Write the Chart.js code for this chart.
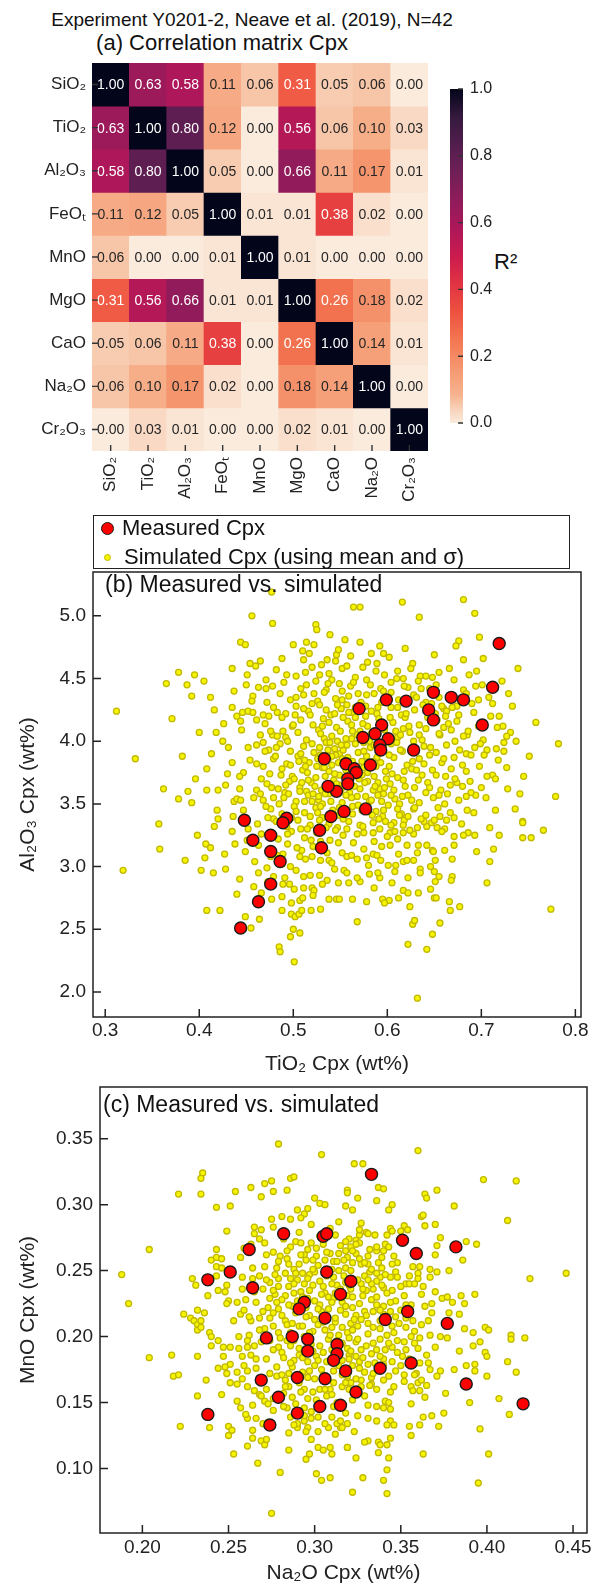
<!DOCTYPE html>
<html>
<head>
<meta charset="utf-8">
<script src="https://cdn.jsdelivr.net/npm/chart.js@4.4.1/dist/chart.umd.min.js"></script>
<style>
  body { margin: 0; background: #fff; }
  #page { position: relative; width: 604px; height: 1589px; font-family: 'Liberation Sans', Arial, sans-serif; color: #111; }
  #page canvas, .txt, .box, .dot { position: absolute; }
  .txt { white-space: nowrap; line-height: 1; }
  .box { box-sizing: border-box; border: 1.5px solid #222; }
  .dot { border-radius: 50%; box-sizing: border-box; }
</style>
</head>
<body>
<div id="page">
  <div class="txt" style="left:0;width:504px;text-align:center;top:10px;font-size:19px">Experiment Y0201-2, Neave et al. (2019), N=42</div>
  <div class="txt" style="left:0;width:444px;text-align:center;top:32px;font-size:22px">(a) Correlation matrix Cpx</div>
  <div class="txt" style="left:494px;top:251px;font-size:22px">R²</div>
  <canvas id="heat" width="440" height="520" style="left:0;top:0"></canvas>
  <canvas id="cbar" width="164" height="400" style="left:440px;top:60px"></canvas>

  <div class="box" style="left:93px;top:515px;width:477px;height:54px"></div>
  <div class="dot" style="left:101px;top:522px;width:13px;height:13px;background:#fe0000;border:1.4px solid #1a1a1a"></div>
  <div class="txt" style="left:122px;top:517px;font-size:22px">Measured Cpx</div>
  <div class="dot" style="left:103.5px;top:553.5px;width:7px;height:7px;background:#f5f500;border:1.2px solid #c2b800"></div>
  <div class="txt" style="left:124px;top:546px;font-size:22px">Simulated Cpx (using mean and σ)</div>

  <canvas id="scatB" width="604" height="520" style="left:0;top:560px"></canvas>
  <div class="txt" style="left:105px;top:573px;font-size:23px">(b) Measured vs. simulated</div>
  <canvas id="scatC" width="604" height="514" style="left:0;top:1075px"></canvas>
  <div class="txt" style="left:103px;top:1093px;font-size:23px">(c) Measured vs. simulated</div>
</div>
<script>
Chart.defaults.font.family = "'Liberation Sans', Arial, sans-serif";
Chart.defaults.color = '#222';

// (a) R² matrix, rows and columns in the same order
const oxides = ['SiO₂', 'TiO₂', 'Al₂O₃', 'FeOₜ', 'MnO', 'MgO', 'CaO', 'Na₂O', 'Cr₂O₃'];
const r2 = [
  [1.00, 0.63, 0.58, 0.11, 0.06, 0.31, 0.05, 0.06, 0.00],
  [0.63, 1.00, 0.80, 0.12, 0.00, 0.56, 0.06, 0.10, 0.03],
  [0.58, 0.80, 1.00, 0.05, 0.00, 0.66, 0.11, 0.17, 0.01],
  [0.11, 0.12, 0.05, 1.00, 0.01, 0.01, 0.38, 0.02, 0.00],
  [0.06, 0.00, 0.00, 0.01, 1.00, 0.01, 0.00, 0.00, 0.00],
  [0.31, 0.56, 0.66, 0.01, 0.01, 1.00, 0.26, 0.18, 0.02],
  [0.05, 0.06, 0.11, 0.38, 0.00, 0.26, 1.00, 0.14, 0.01],
  [0.06, 0.10, 0.17, 0.02, 0.00, 0.18, 0.14, 1.00, 0.00],
  [0.00, 0.03, 0.01, 0.00, 0.00, 0.02, 0.01, 0.00, 1.00]
];
const cbarTicks = [0, 0.2, 0.4, 0.6, 0.8, 1.0];

// (b) TiO2 vs Al2O3, [x, y]
const measB = [
  [0.719,4.78],[0.712,4.43],[0.649,4.39],[0.668,4.35],[0.681,4.33],[0.620,4.32],[0.599,4.33],[0.570,4.26],
  [0.644,4.25],[0.649,4.17],[0.701,4.13],[0.594,4.13],[0.587,4.06],[0.574,4.03],[0.601,4.02],[0.592,3.97],
  [0.593,3.93],[0.628,3.93],[0.556,3.82],[0.565,3.78],[0.567,3.75],[0.582,3.81],[0.558,3.70],[0.558,3.66],
  [0.546,3.60],[0.554,3.44],[0.577,3.46],[0.533,3.86],[0.537,3.64],[0.540,3.40],[0.448,3.37],[0.493,3.385],
  [0.489,3.35],[0.528,3.29],[0.457,3.21],[0.476,3.25],[0.476,3.12],[0.530,3.15],[0.486,3.04],[0.476,2.86],
  [0.463,2.72],[0.444,2.51]
];
const simB = [
  [0.477,5.19],[0.456,5.00],[0.478,4.94],[0.524,4.93],[0.525,4.89],[0.539,4.85],[0.555,4.81],[0.444,4.79],
  [0.449,4.77],[0.500,4.77],[0.514,4.79],[0.522,4.77],[0.510,4.72],[0.517,4.70],[0.546,4.69],[0.548,4.73],
  [0.511,4.65],[0.536,4.65],[0.454,4.62],[0.460,4.60],[0.465,4.64],[0.378,4.55],[0.395,4.53],[0.365,4.46],
  [0.387,4.45],[0.392,4.36],[0.312,4.24],[0.400,4.07],[0.418,4.07],[0.435,4.58],[0.451,4.53],[0.493,4.53],
  [0.471,4.49],[0.471,4.42],[0.478,4.44],[0.450,4.45],[0.435,4.27],[0.416,4.25],[0.332,3.86],[0.435,3.83],
  [0.430,3.74],[0.447,3.75],[0.443,3.72],[0.428,3.65],[0.420,3.61],[0.408,3.61],[0.388,3.60],[0.378,3.54],
  [0.392,3.51],[0.357,3.34],[0.420,3.38],[0.437,3.52],[0.440,3.54],[0.444,3.53],[0.461,3.61],[0.465,3.58],
  [0.468,3.53],[0.454,3.85],[0.461,3.82],[0.468,3.80],[0.461,3.97],[0.468,3.99],[0.478,4.05],[0.483,4.04],
  [0.461,4.17],[0.468,4.21],[0.474,4.20],[0.483,4.23],[0.444,4.16],[0.440,4.20],[0.445,4.09],[0.446,4.23],
  [0.452,4.24],[0.457,4.23],
  [0.681,5.13],[0.693,5.02],[0.634,4.99],[0.564,5.07],[0.571,5.07],[0.616,5.11],[0.698,4.83],[0.676,4.80],
  [0.673,4.76],[0.619,4.74],[0.592,4.76],[0.596,4.70],[0.571,4.79],[0.681,4.65],[0.666,4.58],[0.695,4.56],
  [0.655,4.55],[0.739,4.58],[0.635,4.52],[0.641,4.52],[0.617,4.50],[0.610,4.50],[0.671,4.49],[0.687,4.53],
  [0.694,4.44],[0.701,4.45],[0.729,4.38],[0.708,4.35],[0.697,4.33],[0.674,4.28],[0.660,4.26],[0.663,4.24],
  [0.710,4.20],[0.719,4.20],[0.723,4.12],[0.717,4.11],[0.685,4.05],[0.681,4.04],[0.731,4.07],[0.727,4.04],
  [0.737,4.00],[0.724,3.99],[0.782,3.98],[0.702,4.01],[0.699,3.98],[0.716,3.94],[0.724,3.92],[0.706,3.93],
  [0.703,3.89],[0.684,3.90],[0.689,3.89],[0.727,3.79],[0.741,3.58],[0.779,3.56],[0.736,3.46],[0.744,3.36],
  [0.712,3.73],[0.706,3.72],[0.715,3.70],[0.694,3.57],[0.689,3.59],[0.674,3.67],[0.680,3.64],[0.692,3.43],
  [0.685,3.45],[0.656,3.40],[0.663,3.37],[0.671,3.39],
  [0.358,3.14],[0.319,2.97],[0.402,2.97],[0.415,2.95],[0.406,3.07],[0.407,3.18],[0.412,3.15],[0.416,3.32],
  [0.408,2.65],[0.422,2.65],[0.443,2.90],[0.449,2.60],[0.455,2.51],[0.464,2.58],[0.435,3.28],[0.451,3.21],
  [0.449,3.12],[0.472,2.99],[0.466,2.79],[0.488,2.76],[0.488,2.65],[0.485,2.36],[0.486,2.32],[0.501,2.24],
  [0.497,2.44],[0.500,2.50],[0.507,2.47],[0.498,2.71],[0.507,2.73],[0.510,2.75],[0.498,2.62],[0.502,2.60],
  [0.506,2.62],[0.509,2.65],[0.519,2.65],[0.529,2.66],[0.489,2.86],[0.496,2.86],[0.511,2.83],[0.520,2.83],
  [0.522,2.81],[0.538,2.74],[0.546,2.74],[0.549,2.74],[0.511,2.92],[0.518,2.93],[0.536,2.89],[0.548,2.87],
  [0.497,3.00],[0.507,3.08],[0.520,3.08],[0.529,3.05],[0.538,3.05],[0.554,2.97],[0.557,2.95],[0.552,3.11],
  [0.557,3.08],
  [0.632,1.95],[0.642,2.34],[0.622,2.38],[0.648,2.46],[0.656,2.55],[0.627,2.54],[0.629,2.57],[0.774,2.66],
  [0.568,2.56],[0.624,2.68],[0.666,2.72],[0.667,2.65],[0.677,2.68],[0.650,2.75],[0.652,2.75],[0.646,2.82],
  [0.706,2.87],[0.709,3.04],[0.713,3.14],[0.719,3.25],[0.744,3.23],[0.753,3.23],[0.766,3.29],[0.744,3.35],
  [0.693,3.25],[0.686,3.27],[0.681,3.25],[0.671,3.24],[0.671,3.17],[0.669,3.06],[0.669,2.92],[0.668,2.89],
  [0.655,2.92],[0.651,2.88],[0.635,2.98],[0.635,2.95],[0.646,3.00],[0.650,2.96],[0.622,2.91],[0.617,2.81],
  [0.622,2.79],[0.612,2.75],[0.595,2.74],[0.602,2.73],[0.597,2.71],[0.563,2.74],[0.571,2.88],[0.568,2.91],
  [0.559,2.87],[0.592,2.91],[0.590,2.95],[0.601,3.01],[0.580,3.01],[0.562,3.09],[0.568,3.06],[0.585,3.10],
  [0.589,3.09],[0.593,3.05],[0.612,3.10],[0.617,3.04],[0.621,3.05],[0.628,3.05],[0.632,3.11],[0.642,3.17],
  [0.648,3.13],[0.649,3.12],[0.621,3.17],[0.633,3.17],[0.603,3.17],[0.594,3.16],[0.564,3.19],[0.575,3.27],
  [0.585,3.27],[0.603,3.27],[0.617,3.27],[0.628,3.26],[0.642,3.32],[0.653,3.31],[0.639,3.36],[0.607,3.35],
  [0.585,3.35],[0.571,3.33],
  [0.488,4.66],[0.530,4.61],[0.561,4.68],[0.579,4.63],[0.602,4.67],[0.627,4.62],[0.650,4.69],[0.583,4.70],[0.545,4.64],
  [0.482,4.57],[0.503,4.52],[0.520,4.59],[0.538,4.54],[0.552,4.58],[0.566,4.51],[0.588,4.56],[0.597,4.53],
  [0.625,4.58],[0.648,4.51],[0.513,4.55],[0.574,4.59],
  [0.463,4.43],[0.490,4.47],[0.508,4.42],[0.524,4.48],[0.535,4.41],[0.549,4.46],[0.561,4.44],[0.578,4.49],
  [0.593,4.42],[0.604,4.47],[0.622,4.43],[0.633,4.48],[0.652,4.45],[0.681,4.41],[0.541,4.49],
  [0.457,4.36],[0.472,4.31],[0.486,4.38],[0.497,4.33],[0.511,4.37],[0.526,4.32],[0.533,4.39],[0.545,4.34],
  [0.559,4.36],[0.572,4.31],[0.586,4.38],[0.612,4.33],[0.628,4.37],[0.641,4.31],[0.655,4.35],[0.684,4.38],
  [0.520,4.30],[0.600,4.35],
  [0.479,4.27],[0.492,4.22],[0.503,4.28],[0.516,4.24],[0.528,4.29],[0.540,4.21],[0.551,4.26],[0.563,4.23],
  [0.577,4.28],[0.589,4.22],[0.604,4.27],[0.615,4.21],[0.629,4.25],[0.638,4.29],[0.651,4.22],[0.669,4.27],
  [0.692,4.23],[0.535,4.25],[0.557,4.29],[0.583,4.24],
  [0.470,4.14],[0.488,4.19],[0.499,4.12],[0.508,4.17],[0.521,4.13],[0.532,4.18],[0.546,4.11],[0.558,4.16],
  [0.566,4.19],[0.579,4.12],[0.606,4.15],[0.619,4.19],[0.634,4.13],[0.646,4.17],[0.660,4.11],[0.674,4.16],
  [0.538,4.15],[0.553,4.19],[0.591,4.18],
  [0.476,4.08],[0.492,4.03],[0.505,4.07],[0.514,4.01],[0.527,4.09],[0.541,4.04],[0.550,4.08],[0.562,4.02],
  [0.583,4.06],[0.597,4.09],[0.611,4.03],[0.624,4.07],[0.637,4.01],[0.656,4.05],[0.668,4.09],[0.533,4.02],
  [0.547,4.00],[0.571,4.08],[0.617,4.10],
  [0.474,3.93],[0.486,3.98],[0.497,3.92],[0.511,3.96],[0.522,3.91],[0.535,3.99],[0.544,3.94],[0.557,3.97],
  [0.569,3.91],[0.582,3.95],[0.604,3.98],[0.616,3.92],[0.639,3.96],[0.652,3.91],[0.663,3.97],[0.677,3.93],
  [0.528,3.95],[0.549,3.90],[0.575,3.99],
  [0.479,3.86],[0.493,3.82],[0.505,3.88],[0.517,3.83],[0.529,3.89],[0.541,3.81],[0.552,3.86],[0.563,3.84],
  [0.578,3.88],[0.593,3.83],[0.607,3.87],[0.621,3.81],[0.634,3.86],[0.645,3.89],[0.658,3.83],[0.671,3.87],
  [0.512,3.85],[0.545,3.89],[0.588,3.80],[0.627,3.84],
  [0.475,3.74],[0.488,3.78],[0.499,3.72],[0.510,3.77],[0.524,3.71],[0.538,3.76],[0.549,3.73],[0.575,3.79],
  [0.586,3.72],[0.598,3.76],[0.611,3.71],[0.626,3.78],[0.637,3.73],[0.648,3.77],[0.662,3.72],[0.684,3.76],
  [0.531,3.79],[0.556,3.77],[0.605,3.74],
  [0.472,3.66],[0.484,3.62],[0.496,3.68],[0.507,3.63],[0.519,3.67],[0.530,3.61],[0.543,3.69],[0.565,3.64],
  [0.579,3.68],[0.592,3.62],[0.603,3.66],[0.617,3.69],[0.629,3.63],[0.643,3.67],[0.657,3.61],[0.667,3.65],
  [0.514,3.60],[0.549,3.65],[0.585,3.61],
  [0.479,3.55],[0.491,3.59],[0.503,3.52],[0.516,3.57],[0.527,3.53],[0.538,3.58],[0.552,3.51],[0.568,3.56],
  [0.581,3.52],[0.596,3.58],[0.608,3.54],[0.622,3.57],[0.634,3.51],[0.649,3.55],[0.664,3.58],[0.676,3.53],
  [0.531,3.50],[0.560,3.59],[0.613,3.50],
  [0.476,3.46],[0.488,3.42],[0.501,3.48],[0.512,3.43],[0.524,3.47],[0.548,3.41],[0.563,3.48],[0.588,3.44],
  [0.601,3.49],[0.615,3.42],[0.628,3.46],[0.641,3.41],[0.654,3.47],[0.667,3.43],[0.518,3.40],[0.573,3.45],[0.595,3.40],
  [0.462,3.34],[0.479,3.38],[0.493,3.32],[0.505,3.37],[0.518,3.33],[0.531,3.39],[0.547,3.31],[0.559,3.36],
  [0.574,3.32],[0.591,3.38],[0.604,3.33],[0.618,3.37],[0.632,3.31],[0.647,3.35],[0.661,3.30],[0.538,3.34],
  [0.466,3.26],[0.484,3.22],[0.498,3.28],[0.512,3.23],[0.525,3.27],[0.539,3.21],[0.553,3.25],[0.611,3.22],
  [0.658,3.28],[0.508,3.30],[0.545,3.29],
  [0.463,3.17],[0.478,3.12],[0.494,3.18],[0.509,3.13],[0.521,3.16],[0.536,3.11],[0.548,3.19],[0.575,3.14],
  [0.661,3.13],[0.489,3.10],[0.529,3.20],
  [0.459,3.04],[0.476,3.08],[0.488,3.02],[0.513,3.06],[0.541,3.03],[0.578,3.07],[0.609,3.01],[0.651,3.05],[0.483,3.09],
  [0.463,2.95],[0.479,2.92],[0.503,2.97],[0.528,2.93],[0.544,2.98],[0.581,2.94],[0.608,2.96],[0.491,2.91],
  [0.458,2.84],[0.473,2.88],[0.501,2.82],[0.531,2.86],[0.586,2.83],[0.605,2.87],
  [0.477,2.74],[0.521,2.77],[0.578,2.72],[0.633,2.79],
  [0.413,3.90],[0.425,4.00],[0.408,3.78],[0.419,3.45],[0.431,3.95],[0.426,4.14],[0.412,4.35],[0.437,4.40],
  [0.405,4.48],[0.396,3.70],[0.382,3.88],[0.371,4.18],[0.362,3.62],[0.398,3.25],[0.385,3.05],[0.427,3.10],
  [0.440,2.78],[0.428,2.98],[0.436,3.40],[0.452,3.30],[0.443,3.62],[0.452,3.95],[0.456,4.32],[0.447,3.45],[0.438,3.18],
  [0.705,3.55],[0.718,3.85],[0.728,3.62],[0.709,3.31],[0.698,3.80],[0.733,4.28],[0.751,3.88],[0.758,4.15],
  [0.745,3.72],[0.722,4.48],[0.702,4.66],[0.715,3.45],[0.695,3.12],[0.688,3.68],[0.712,4.30],[0.697,4.12],
  [0.503,4.35],[0.518,4.21],[0.529,4.06],[0.537,3.93],[0.548,3.83],[0.559,3.71],[0.571,3.62],[0.583,3.53],
  [0.596,3.45],[0.607,3.61],[0.618,3.76],[0.626,3.92],[0.634,4.05],[0.643,4.19],[0.552,4.40],[0.566,4.27],
  [0.574,4.14],[0.581,4.00],[0.589,3.87],[0.599,3.70],[0.604,3.57],[0.613,3.41],[0.521,3.58],[0.534,3.72],
  [0.541,3.88],[0.556,4.02],[0.562,4.13],[0.547,4.29],[0.508,3.90],[0.515,3.75],[0.523,3.64],[0.497,3.81],
  [0.492,3.65],[0.485,3.50],[0.498,3.39],[0.512,3.52],[0.526,3.43],[0.540,3.52],[0.556,3.57],[0.570,3.70],
  [0.585,3.84],[0.596,3.95],[0.609,4.08],[0.620,4.22],[0.631,4.35],[0.645,4.42],[0.658,4.28],[0.665,4.14],
  [0.672,4.00],[0.660,3.86],[0.652,3.73],[0.641,3.59],[0.629,3.47],[0.617,3.33],[0.600,3.24],[0.586,3.20],
  [0.568,3.26],[0.553,3.38],[0.535,3.31],[0.519,3.21],[0.504,3.15],[0.494,3.26],[0.482,3.36],[0.471,3.48],
  [0.466,3.70],[0.482,3.95],[0.489,4.08],[0.502,4.21],[0.514,4.45],[0.528,4.53],[0.557,4.60],[0.589,4.62],
  [0.611,4.56],[0.636,4.42],[0.647,4.30],[0.676,4.21],[0.686,4.08],[0.693,3.95],[0.680,3.81],[0.672,3.70],
  [0.661,3.50],[0.650,3.37],[0.624,3.29],[0.592,3.30],[0.563,3.42],[0.577,3.56],[0.590,3.67],[0.602,3.80],
  [0.614,3.93],[0.623,4.12],[0.611,4.27],[0.596,4.40],[0.578,4.37],[0.564,4.47],[0.544,4.22],[0.531,4.12],
  [0.520,3.98],[0.513,3.80],[0.507,3.60],[0.529,3.48],[0.546,3.66],[0.561,3.80],[0.575,3.92],[0.568,4.05],
  [0.553,3.93],[0.539,3.99],[0.526,3.86],[0.501,3.70],[0.490,3.55],[0.477,3.63],
  [0.506,3.84],[0.516,3.69],[0.527,3.56],[0.533,3.79],[0.544,3.74],[0.551,3.62],[0.558,3.87],[0.566,3.98],
  [0.573,3.84],[0.579,3.75],[0.587,3.64],[0.594,3.52],[0.602,3.89],[0.610,3.99],[0.619,3.64],[0.626,3.53],
  [0.633,3.69],[0.639,3.82],[0.646,3.95],[0.655,4.06],[0.662,4.20],[0.668,3.78],[0.611,3.46],[0.598,3.36],
  [0.584,3.41],[0.569,3.49],[0.557,3.30],[0.542,3.45],[0.528,3.37],[0.515,3.30],[0.503,3.44],[0.495,3.58],
  [0.487,3.73],[0.481,3.88],[0.494,4.00],[0.500,4.13],[0.511,4.26],[0.522,4.38],[0.537,4.46],[0.552,4.33],
  [0.559,4.23],[0.569,4.38],[0.582,4.45],[0.594,4.31],[0.603,4.19],[0.614,4.05],[0.628,4.00],[0.641,4.10],
  [0.653,4.17],[0.645,3.63],[0.636,3.38],[0.622,3.40],[0.608,3.28],[0.590,3.57],[0.576,3.67],[0.562,3.55],
  [0.549,3.47],[0.534,3.58],[0.520,3.52],[0.509,3.67],[0.525,3.80],[0.537,3.85],[0.551,3.97],[0.563,4.08],
  [0.577,4.20],[0.590,4.27],[0.604,4.39],[0.618,4.44],[0.586,3.97],[0.573,3.73],[0.597,3.63],[0.616,3.56],
  [0.631,3.77],[0.655,3.57],[0.684,3.56],[0.679,3.34],[0.700,3.63],[0.690,4.30],[0.470,3.92],[0.465,4.05],
  [0.458,3.55],[0.473,3.39]
];

// (c) Na2O vs MnO, [x, y]
const measC = [
  [0.282,0.278],[0.305,0.276],[0.307,0.278],[0.262,0.266],[0.251,0.249],[0.238,0.243],[0.264,0.237],[0.307,0.249],
  [0.315,0.232],[0.294,0.226],[0.291,0.221],[0.306,0.214],[0.272,0.199],[0.287,0.200],[0.296,0.198],[0.313,0.194],
  [0.321,0.242],[0.333,0.323],[0.351,0.273],[0.359,0.263],[0.382,0.268],[0.354,0.219],[0.341,0.213],[0.377,0.210],
  [0.296,0.189],[0.313,0.187],[0.311,0.182],[0.318,0.174],[0.269,0.167],[0.290,0.169],[0.306,0.168],[0.279,0.154],
  [0.303,0.147],[0.315,0.148],[0.290,0.142],[0.238,0.141],[0.274,0.133],[0.338,0.176],[0.356,0.180],[0.324,0.158],
  [0.388,0.164],[0.421,0.149]
];
const simC = [
  [0.279,0.346],[0.304,0.338],[0.235,0.324],[0.234,0.320],[0.221,0.308],[0.234,0.308],[0.204,0.266],[0.188,0.247],
  [0.192,0.225],[0.271,0.316],[0.275,0.318],[0.286,0.320],[0.288,0.321],[0.263,0.313],[0.269,0.306],[0.276,0.310],
  [0.284,0.311],[0.254,0.310],[0.243,0.298],[0.251,0.299],[0.300,0.305],[0.303,0.301],[0.306,0.300],[0.296,0.297],
  [0.294,0.293],[0.290,0.296],[0.292,0.290],[0.281,0.291],[0.286,0.289],[0.275,0.289],[0.276,0.283],[0.265,0.283],
  [0.269,0.281],[0.265,0.278],[0.268,0.274],[0.249,0.280],[0.263,0.270],[0.259,0.267],[0.257,0.260],[0.243,0.266],
  [0.240,0.258],[0.243,0.260],[0.246,0.259],[0.243,0.253],[0.246,0.252],[0.243,0.246],[0.229,0.244],[0.231,0.239],
  [0.238,0.231],[0.244,0.235],[0.250,0.227],[0.249,0.225],[0.224,0.217],[0.228,0.214],[0.230,0.212],[0.232,0.209],
  [0.234,0.212],[0.232,0.220],[0.236,0.218],[0.232,0.205],[0.234,0.207],[0.239,0.203],[0.240,0.200],[0.244,0.197],
  [0.251,0.192],[0.256,0.191],[0.261,0.197],[0.265,0.193],[0.257,0.217],[0.259,0.220],[0.263,0.212],[0.249,0.239],
  [0.248,0.234],[0.258,0.245],[0.264,0.244],[0.264,0.237],
  [0.360,0.341],[0.323,0.331],[0.328,0.331],[0.398,0.319],[0.417,0.318],[0.319,0.311],[0.319,0.309],[0.337,0.313],
  [0.340,0.312],[0.364,0.308],[0.365,0.305],[0.371,0.311],[0.325,0.305],[0.336,0.303],[0.345,0.300],[0.343,0.296],
  [0.381,0.299],[0.318,0.299],[0.322,0.296],[0.412,0.288],[0.362,0.291],[0.363,0.292],[0.364,0.284],[0.370,0.285],
  [0.352,0.284],[0.354,0.281],[0.350,0.280],[0.344,0.282],[0.345,0.280],[0.342,0.277],[0.341,0.270],[0.343,0.268],
  [0.327,0.286],[0.330,0.279],[0.326,0.277],[0.331,0.278],[0.335,0.277],[0.320,0.274],[0.324,0.273],[0.326,0.271],
  [0.321,0.268],[0.373,0.275],[0.388,0.272],[0.394,0.270],[0.371,0.269],[0.370,0.262],[0.386,0.258],[0.346,0.261],
  [0.336,0.265],[0.332,0.266],[0.319,0.260],[0.324,0.263],[0.327,0.255],[0.331,0.255],[0.337,0.256],[0.339,0.260],
  [0.357,0.253],[0.361,0.253],[0.360,0.248],[0.360,0.244],[0.367,0.251],[0.371,0.249],[0.378,0.250],[0.425,0.244],
  [0.446,0.248],[0.363,0.238],[0.367,0.245],[0.353,0.240],[0.355,0.240],[0.347,0.249],[0.348,0.245],[0.344,0.245],
  [0.338,0.245],[0.336,0.248],[0.332,0.249],[0.327,0.240],[0.330,0.235],[0.334,0.236],[0.340,0.237],[0.370,0.234],
  [0.374,0.229],[0.377,0.230],[0.380,0.226],[0.385,0.231],[0.387,0.225],[0.393,0.232],[0.368,0.225],[0.368,0.218],
  [0.378,0.218],[0.384,0.217],[0.387,0.206],[0.392,0.203],[0.399,0.207],[0.401,0.205],[0.414,0.201],[0.414,0.198],
  [0.422,0.199],[0.367,0.201],[0.373,0.200],[0.377,0.199],[0.396,0.196],
  [0.204,0.184],[0.217,0.186],[0.218,0.170],[0.221,0.171],[0.232,0.185],[0.222,0.132],[0.239,0.131],[0.232,0.155],
  [0.237,0.167],[0.246,0.156],[0.244,0.176],[0.248,0.177],[0.247,0.185],[0.247,0.192],[0.240,0.193],[0.251,0.165],
  [0.255,0.151],[0.257,0.146],[0.261,0.138],[0.260,0.141],[0.250,0.132],[0.252,0.129],[0.250,0.125],[0.253,0.111],
  [0.261,0.117],[0.264,0.123],[0.264,0.129],[0.269,0.121],[0.271,0.118],[0.272,0.122],[0.267,0.104],[0.280,0.097],
  [0.275,0.066],[0.285,0.127],[0.285,0.114],[0.290,0.131],[0.294,0.136],[0.296,0.131],[0.295,0.128],[0.298,0.122],
  [0.297,0.111],[0.295,0.107],[0.301,0.096],[0.304,0.091],[0.309,0.093],[0.302,0.116],[0.305,0.114],[0.309,0.116],
  [0.310,0.111],[0.308,0.131],[0.312,0.126],[0.315,0.131],[0.319,0.116],[0.286,0.139],[0.290,0.134],[0.294,0.140],
  [0.266,0.138],[0.270,0.134],[0.273,0.135],[0.276,0.153],[0.282,0.157],[0.284,0.146],[0.289,0.149],[0.294,0.146],
  [0.298,0.143],[0.302,0.139],[0.306,0.134],[0.310,0.139],[0.313,0.134],[0.315,0.136],[0.255,0.164],[0.261,0.162],
  [0.265,0.159],[0.268,0.156],[0.271,0.151],[0.273,0.149],[0.278,0.170],[0.283,0.167],[0.285,0.162],[0.294,0.160],
  [0.299,0.158],[0.303,0.160],[0.309,0.160],[0.316,0.162],[0.249,0.172],[0.251,0.179],[0.255,0.173],[0.258,0.168],
  [0.261,0.174],
  [0.395,0.089],[0.401,0.111],[0.396,0.130],[0.413,0.141],[0.407,0.153],[0.417,0.173],[0.412,0.181],[0.400,0.170],
  [0.399,0.188],[0.400,0.185],[0.393,0.179],[0.393,0.174],[0.388,0.178],[0.384,0.189],[0.381,0.175],[0.392,0.193],
  [0.390,0.150],[0.376,0.157],[0.375,0.142],[0.372,0.132],[0.363,0.111],[0.363,0.139],[0.368,0.140],[0.364,0.154],
  [0.365,0.163],[0.360,0.165],[0.356,0.149],[0.355,0.132],[0.356,0.125],[0.361,0.133],[0.359,0.172],[0.362,0.167],
  [0.367,0.175],[0.371,0.170],[0.373,0.174],[0.356,0.162],[0.357,0.159],[0.361,0.159],[0.344,0.136],[0.346,0.133],
  [0.344,0.123],[0.342,0.118],[0.337,0.120],[0.342,0.099],[0.342,0.081],[0.343,0.108],[0.340,0.091],[0.338,0.118],
  [0.337,0.112],[0.331,0.121],[0.329,0.120],[0.328,0.093],[0.322,0.082],[0.324,0.108],[0.319,0.116],[0.323,0.128],
  [0.331,0.138],[0.336,0.136],[0.342,0.133],[0.341,0.151],[0.343,0.150],[0.340,0.146],[0.336,0.147],[0.319,0.134],
  [0.316,0.131],[0.344,0.158],[0.346,0.162],[0.327,0.167],[0.333,0.169],[0.333,0.164],[0.327,0.162],[0.321,0.165],
  [0.282,0.274],[0.291,0.279],[0.298,0.271],[0.312,0.277],[0.318,0.272],[0.303,0.276],
  [0.276,0.264],[0.286,0.268],[0.294,0.262],[0.301,0.267],[0.309,0.263],[0.315,0.269],[0.322,0.265],[0.331,0.261],[0.280,0.261],
  [0.271,0.253],[0.279,0.257],[0.288,0.251],[0.295,0.258],[0.302,0.254],[0.311,0.257],[0.318,0.252],[0.326,0.259],
  [0.339,0.252],[0.284,0.259],[0.314,0.250],
  [0.268,0.246],[0.274,0.241],[0.283,0.248],[0.290,0.243],[0.297,0.247],[0.303,0.242],[0.311,0.245],[0.318,0.241],
  [0.329,0.246],[0.336,0.242],[0.279,0.244],[0.300,0.249],
  [0.270,0.236],[0.277,0.232],[0.285,0.238],[0.292,0.234],[0.299,0.239],[0.306,0.233],[0.321,0.236],[0.328,0.231],
  [0.342,0.233],[0.350,0.238],[0.283,0.231],[0.313,0.239],
  [0.266,0.226],[0.273,0.222],[0.281,0.228],[0.287,0.223],[0.300,0.227],[0.308,0.221],[0.316,0.226],[0.322,0.222],
  [0.333,0.228],[0.340,0.223],[0.347,0.227],[0.356,0.224],[0.279,0.221],[0.311,0.229],
  [0.268,0.214],[0.276,0.218],[0.283,0.212],[0.297,0.216],[0.304,0.219],[0.312,0.211],[0.318,0.217],[0.327,0.213],
  [0.334,0.219],[0.347,0.215],[0.357,0.212],[0.289,0.218],[0.321,0.210],
  [0.271,0.206],[0.279,0.203],[0.291,0.208],[0.299,0.204],[0.310,0.207],[0.319,0.203],[0.325,0.208],[0.331,0.202],
  [0.338,0.206],[0.346,0.203],[0.353,0.207],[0.362,0.209],[0.284,0.209],
  [0.269,0.196],[0.279,0.192],[0.284,0.197],[0.303,0.193],[0.308,0.198],[0.319,0.191],[0.324,0.196],[0.330,0.193],
  [0.338,0.198],[0.345,0.192],[0.352,0.196],[0.360,0.191],[0.291,0.191],
  [0.263,0.186],[0.272,0.183],[0.281,0.188],[0.288,0.182],[0.301,0.185],[0.307,0.181],[0.320,0.186],[0.326,0.181],
  [0.333,0.187],[0.340,0.183],[0.348,0.188],[0.355,0.183],[0.365,0.186],[0.294,0.189],
  [0.266,0.176],[0.274,0.172],[0.287,0.177],[0.293,0.173],[0.300,0.178],[0.311,0.174],[0.322,0.178],[0.329,0.173],
  [0.340,0.179],[0.347,0.174],[0.352,0.171],
  [0.289,0.272],[0.296,0.266],[0.305,0.270],[0.314,0.263],[0.324,0.270],[0.278,0.252],[0.291,0.255],[0.299,0.251],
  [0.306,0.258],[0.322,0.256],[0.333,0.251],[0.272,0.243],[0.286,0.244],[0.294,0.240],[0.307,0.246],[0.315,0.236],
  [0.325,0.243],[0.333,0.240],[0.345,0.235],[0.274,0.229],[0.288,0.233],[0.296,0.229],[0.303,0.224],[0.319,0.231],
  [0.326,0.225],[0.336,0.230],[0.344,0.226],[0.352,0.231],[0.270,0.219],[0.281,0.216],[0.292,0.221],[0.300,0.213],
  [0.307,0.216],[0.315,0.220],[0.324,0.216],[0.331,0.210],[0.340,0.217],[0.350,0.220],[0.276,0.208],[0.286,0.203],
  [0.294,0.200],[0.302,0.209],[0.314,0.201],[0.322,0.205],[0.334,0.207],[0.342,0.201],[0.349,0.210],[0.358,0.204],
  [0.274,0.197],[0.282,0.184],[0.291,0.186],[0.298,0.194],[0.305,0.188],[0.316,0.195],[0.321,0.189],[0.328,0.184],
  [0.336,0.190],[0.343,0.195],[0.351,0.185],[0.358,0.195],[0.278,0.177],[0.285,0.172],[0.296,0.181],[0.304,0.175],
  [0.314,0.178],[0.319,0.170],[0.326,0.176],[0.335,0.180],[0.343,0.170],[0.350,0.178],[0.283,0.162],[0.291,0.165],
  [0.300,0.168],[0.311,0.165],[0.320,0.160],[0.329,0.155],[0.336,0.160],[0.296,0.153],[0.307,0.155],[0.313,0.150],
  [0.287,0.154],[0.279,0.238],[0.310,0.240],[0.328,0.236],[0.338,0.220],[0.297,0.235],[0.268,0.205],[0.262,0.215],
  [0.260,0.228],[0.264,0.252],[0.284,0.265],[0.309,0.282],[0.326,0.281],[0.298,0.285],[0.314,0.287],[0.340,0.265],
  [0.348,0.256],[0.355,0.246],[0.362,0.232],[0.366,0.212],[0.370,0.192],[0.361,0.180],[0.352,0.166],[0.331,0.148],
  [0.318,0.142],[0.302,0.128],[0.288,0.133],[0.276,0.144],[0.264,0.148],[0.258,0.185],[0.256,0.200],[0.253,0.212],
  [0.255,0.226],[0.271,0.271],[0.283,0.278],[0.317,0.258],[0.301,0.261],[0.293,0.248],[0.317,0.246],[0.304,0.232],
  [0.290,0.227],[0.312,0.214],[0.325,0.198],[0.309,0.201],[0.293,0.208],[0.286,0.193],[0.302,0.182],[0.320,0.183],
  [0.334,0.172],[0.318,0.165],[0.306,0.160],[0.296,0.169],
  [0.285,0.255],[0.292,0.262],[0.299,0.258],[0.307,0.264],[0.313,0.257],[0.321,0.250],[0.329,0.256],[0.277,0.247],
  [0.288,0.240],[0.296,0.244],[0.305,0.238],[0.312,0.233],[0.320,0.239],[0.331,0.243],[0.339,0.239],[0.278,0.226],
  [0.285,0.224],[0.293,0.230],[0.302,0.221],[0.310,0.226],[0.318,0.223],[0.329,0.219],[0.336,0.224],[0.344,0.219],
  [0.353,0.224],[0.274,0.214],[0.287,0.210],[0.295,0.215],[0.305,0.211],[0.316,0.207],[0.323,0.213],[0.330,0.216],
  [0.338,0.212],[0.345,0.208],[0.353,0.214],[0.280,0.199],[0.288,0.197],[0.297,0.203],[0.306,0.205],[0.313,0.197],
  [0.320,0.199],[0.327,0.190],[0.334,0.195],[0.341,0.190],[0.348,0.197],[0.356,0.200],[0.276,0.190],[0.286,0.180],
  [0.293,0.184],[0.299,0.189],[0.310,0.190],[0.316,0.182],[0.324,0.185],[0.331,0.179],[0.338,0.185],[0.345,0.181],
  [0.353,0.190],[0.281,0.171],[0.289,0.168],[0.297,0.174],[0.305,0.171],[0.316,0.171],[0.324,0.168],[0.332,0.163],
  [0.340,0.167],[0.292,0.158],[0.301,0.152],[0.310,0.156],[0.322,0.152],[0.272,0.160],[0.266,0.183],[0.262,0.201],
  [0.265,0.234],[0.272,0.262],[0.292,0.271],[0.318,0.265],[0.336,0.268],[0.345,0.255],[0.358,0.240],[0.364,0.223],
  [0.361,0.199],[0.366,0.180],[0.358,0.171],[0.344,0.145],[0.325,0.140],[0.311,0.147],[0.298,0.138],[0.282,0.147],
  [0.269,0.155],[0.259,0.178],[0.261,0.192],[0.258,0.236],[0.276,0.235],[0.295,0.222],[0.308,0.230],[0.322,0.230],
  [0.341,0.247],[0.310,0.251],[0.289,0.248]
];

// rocket_r colour map stops
const rocketStops = [
  [0, '#faebdd'], [0.04, '#f8d3bb'], [0.083, '#f6b48f'], [0.167, '#f5966f'], [0.25, '#f37651'],
  [0.333, '#ed5140'], [0.417, '#e13342'], [0.5, '#cb1b4f'], [0.583, '#ad1759'], [0.667, '#8f1c5b'],
  [0.75, '#701f57'], [0.833, '#521e4d'], [0.917, '#35193e'], [1, '#03051a']
];

function hexRgb(h) {
  return [1, 3, 5].map(i => parseInt(h.slice(i, i + 2), 16));
}

function rocketR(v) {
  for (let i = 1; i < rocketStops.length; i++) {
    const [t1, c1] = rocketStops[i];
    if (v <= t1) {
      const [t0, c0] = rocketStops[i - 1];
      const f = (v - t0) / (t1 - t0);
      const a = hexRgb(c0), b = hexRgb(c1);
      return 'rgb(' + a.map((x, k) => Math.round(x + (b[k] - x) * f)).join(',') + ')';
    }
  }
  return rocketStops[rocketStops.length - 1][1];
}

// inward ticks and a full box, matplotlib style
function inTicks(cfg) {
  return {
    id: 'inTicks',
    afterDraw(chart) {
      const {ctx, chartArea: a, scales} = chart;
      ctx.save();
      ctx.strokeStyle = cfg.color || '#222';
      ctx.lineWidth = cfg.width || 1.5;
      if (cfg.frame) ctx.strokeRect(a.left, a.top, a.right - a.left, a.bottom - a.top);
      ctx.beginPath();
      if (cfg.x) {
        scales.x.ticks.forEach((t, i) => {
          const px = scales.x.getPixelForTick(i);
          ctx.moveTo(px, a.bottom);
          ctx.lineTo(px, a.bottom - cfg.len);
        });
      }
      if (cfg.y) {
        const edge = cfg.y === 'right' ? a.right : a.left;
        const dir = cfg.y === 'right' ? -1 : 1;
        scales.y.ticks.forEach((t, i) => {
          const py = scales.y.getPixelForTick(i);
          ctx.moveTo(edge, py);
          ctx.lineTo(edge + dir * cfg.len, py);
        });
      }
      ctx.stroke();
      ctx.restore();
    }
  };
}

const cellText = {
  id: 'cellText',
  afterDatasetsDraw(chart) {
    const {ctx} = chart;
    ctx.save();
    ctx.font = "14px 'Liberation Sans', Arial, sans-serif";
    ctx.textAlign = 'center';
    ctx.textBaseline = 'middle';
    r2.forEach((row, r) => {
      chart.getDatasetMeta(r).data.forEach((bar, c) => {
        const p = bar.getCenterPoint();
        ctx.fillStyle = row[c] > 0.22 ? '#ffffff' : '#262626';
        ctx.fillText(row[c].toFixed(2), p.x, p.y + 1);
      });
    });
    ctx.restore();
  }
};

function initHeatmap() {
  new Chart(document.getElementById('heat'), {
    type: 'bar',
    data: {
      labels: oxides,
      datasets: r2.map((row, r) => ({
        data: row.map(() => [r, r + 1]),
        backgroundColor: row.map(rocketR),
        borderWidth: 0,
        barPercentage: 1,
        categoryPercentage: 1,
        grouped: false
      }))
    },
    options: {
      responsive: false,
      animation: false,
      events: [],
      layout: { padding: { top: 63, right: 12, left: 0, bottom: 0 } },
      plugins: { legend: { display: false }, tooltip: { enabled: false } },
      scales: {
        x: {
          grid: { display: false, drawTicks: false },
          border: { display: false },
          ticks: { autoSkip: false, minRotation: 90, maxRotation: 90, padding: 6, font: { size: 17 } },
          afterFit: (s) => { s.height = 69; }
        },
        y: {
          type: 'linear',
          min: 0,
          max: 9,
          reverse: true,
          grid: { display: false, drawTicks: false },
          border: { display: false },
          afterBuildTicks: (s) => { s.ticks = oxides.map((o, i) => ({ value: i + 0.5 })); },
          ticks: { padding: 6, font: { size: 17 }, callback: (v, i) => oxides[i] },
          afterFit: (s) => { s.width = 92; }
        }
      }
    },
    plugins: [cellText, inTicks({ x: true, y: 'left', len: 6, width: 1.4, color: '#333' })]
  });
}

function initColorbar() {
  new Chart(document.getElementById('cbar'), {
    type: 'bar',
    data: {
      labels: ['R²'],
      datasets: [{
        data: [[0, 1]],
        borderWidth: 0,
        barPercentage: 1,
        categoryPercentage: 1,
        backgroundColor: (c) => {
          const a = c.chart.chartArea;
          if (!a) return '#faebdd';
          const g = c.chart.ctx.createLinearGradient(0, a.bottom, 0, a.top);
          rocketStops.forEach(([t, col]) => g.addColorStop(t, col));
          return g;
        }
      }]
    },
    options: {
      responsive: false,
      animation: false,
      events: [],
      layout: { padding: { top: 29, left: 10, bottom: 37, right: 0 } },
      plugins: { legend: { display: false }, tooltip: { enabled: false } },
      scales: {
        x: { display: false },
        y: {
          position: 'right',
          min: 0,
          max: 1,
          grid: { display: false, drawTicks: false },
          border: { display: false },
          afterBuildTicks: (s) => { s.ticks = cbarTicks.map(v => ({ value: v })); },
          ticks: { padding: 7, font: { size: 16 }, callback: (v) => v.toFixed(1) },
          afterFit: (s) => { s.width = 141; s.paddingTop = 0; s.paddingBottom = 0; }
        }
      }
    },
    plugins: [inTicks({ y: 'right', len: 5, width: 1.4, color: '#333' })]
  });
}

function scatterChart(id, meas, sim, ax, ay) {
  return new Chart(document.getElementById(id), {
    type: 'scatter',
    data: {
      datasets: [
        {
          label: 'Measured Cpx',
          data: meas.map(([x, y]) => ({ x, y })),
          pointRadius: 6,
          pointBorderWidth: 1.4,
          pointBackgroundColor: '#fe0000',
          pointBorderColor: '#1a1a1a'
        },
        {
          label: 'Simulated Cpx (using mean and σ)',
          data: sim.map(([x, y]) => ({ x, y })),
          pointRadius: 3,
          pointBorderWidth: 1.3,
          pointBackgroundColor: '#f5f500',
          pointBorderColor: '#c2b800'
        }
      ]
    },
    options: {
      responsive: false,
      animation: false,
      events: [],
      layout: { padding: { top: 12, right: ax.padRight, left: 0, bottom: 0 } },
      plugins: { legend: { display: false }, tooltip: { enabled: false } },
      scales: {
        x: {
          type: 'linear',
          min: ax.min,
          max: ax.max,
          grid: { display: false, drawTicks: false },
          border: { display: false },
          ticks: { stepSize: ax.step, includeBounds: false, padding: ax.pad, font: { size: 19 }, callback: (v) => v.toFixed(ax.dec) },
          title: { display: true, text: ax.title, font: { size: 21 }, padding: { top: 0, bottom: 3.4 } },
          afterFit: (s) => { s.height = ax.height; s.paddingLeft = 0; s.paddingRight = 0; }
        },
        y: {
          type: 'linear',
          min: ay.min,
          max: ay.max,
          grid: { display: false, drawTicks: false },
          border: { display: false },
          ticks: { stepSize: ay.step, includeBounds: false, padding: 7, font: { size: 19 }, callback: (v) => v.toFixed(ay.dec) },
          title: { display: true, text: ay.title, font: { size: 21 }, padding: { top: 15.4, bottom: 0 } },
          afterFit: (s) => { s.width = ay.width; s.paddingTop = 0; s.paddingBottom = 0; }
        }
      }
    },
    plugins: [inTicks({ x: true, y: 'left', len: 8, width: 1.5, color: '#222', frame: true })]
  });
}

window.addEventListener('DOMContentLoaded', () => {
  initHeatmap();
  initColorbar();
  scatterChart('scatB', measB, simB,
    { min: 0.287, max: 0.806, step: 0.1, dec: 1, title: 'TiO₂ Cpx (wt%)', height: 63, padRight: 23, pad: 2 },
    { min: 1.80, max: 5.35, step: 0.5, dec: 1, title: 'Al₂O₃ Cpx (wt%)', width: 93 });
  scatterChart('scatC', measC, simC,
    { min: 0.1754, max: 0.4581, step: 0.05, dec: 2, title: 'Na₂O Cpx (wt%)', height: 56, padRight: 17, pad: 3 },
    { min: 0.0511, max: 0.3892, step: 0.05, dec: 2, title: 'MnO Cpx (wt%)', width: 100 });
});
</script>
</body>
</html>
